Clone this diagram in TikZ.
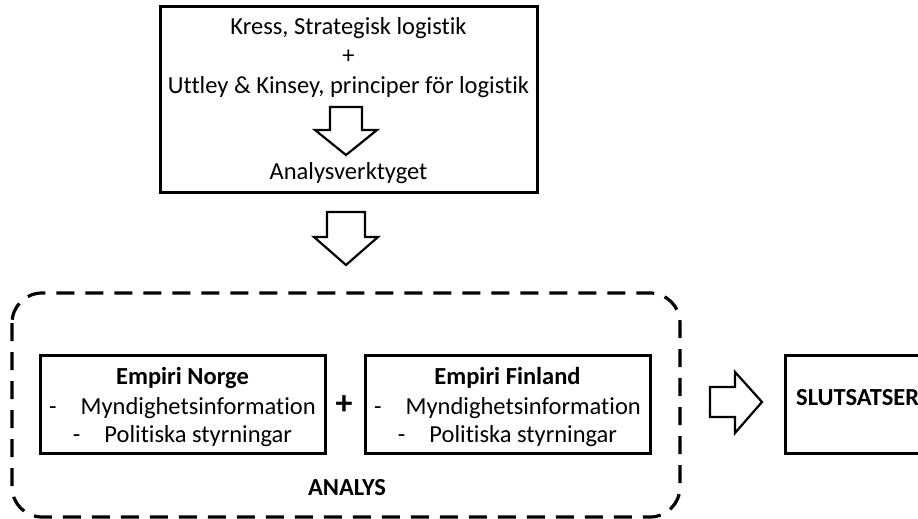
\documentclass[tikz,border=0pt]{standalone}
\usepackage{fontspec}
\setmainfont{Carlito}[Ligatures={NoCommon}]
\begin{document}
\begin{tikzpicture}[x=1pt,y=-1pt,
  blk/.style={draw,line width=2.2pt,fill=white,line join=miter},
  txt/.style={font=\fontsize{24.5}{28}\selectfont,inner sep=0pt,anchor=center},
  btxt/.style={font=\bfseries\fontsize{24.5}{28}\selectfont,inner sep=0pt,anchor=center}]
\useasboundingbox (0,0) rectangle (918,519);
% top box
\draw[line width=3pt] (160,7) rectangle (537,192);
\node[txt] (kress) at (348.5,28) {Kress, Strategisk logistik};
\node[txt] (plus1) at (348.5,57) {+};
\node[txt] (uttley) at (348.5,87) {Uttley \& Kinsey, principer för logistik};
\node[txt] (verk) at (348.5,173) {Analysverktyget};
% small arrow inside top box
\draw[blk] (330,107) -- (362,107) -- (362,130) -- (377,130) -- (346,155) -- (315,130) -- (330,130) -- cycle;
% middle arrow
\draw[blk] (327,212) -- (365,212) -- (365,237) -- (378,237) -- (346,265) -- (314,237) -- (327,237) -- cycle;
% dashed rounded box
\draw[line width=3.2pt,dash pattern=on 18pt off 11pt,rounded corners=30pt] (12,293) rectangle (680,517);
% empiri boxes
\draw[line width=3pt] (40,355) rectangle (325,453);
\draw[line width=3pt] (365,355) rectangle (650,453);
\node[btxt] (norge) at (182.5,378) {Empiri Norge};
\node[txt] (n2) at (182.5,408) {-\hspace{24pt}Myndighetsinformation};
\node[txt] (n3) at (182.5,436) {-\hspace{24pt}Politiska styrningar};
\node[btxt,font=\bfseries\fontsize{34}{36}\selectfont] (plus2) at (344,405) {+};
\node[btxt] (finland) at (507.5,378) {Empiri Finland};
\node[txt] (f2) at (507.5,408) {-\hspace{24pt}Myndighetsinformation};
\node[txt] (f3) at (507.5,436) {-\hspace{24pt}Politiska styrningar};
\node[btxt] (analys) at (347,488) {ANALYS};
% right arrow
\draw[blk] (710,387) -- (735,387) -- (735,372) -- (762,402) -- (735,433) -- (735,417) -- (710,417) -- cycle;
% slutsatser
\draw[line width=3pt] (930,355) -- (785,355) -- (785,453) -- (930,453);
\node[btxt,anchor=west] (slut) at (796,398) {SLUTSATSER};
\end{tikzpicture}
\end{document}
